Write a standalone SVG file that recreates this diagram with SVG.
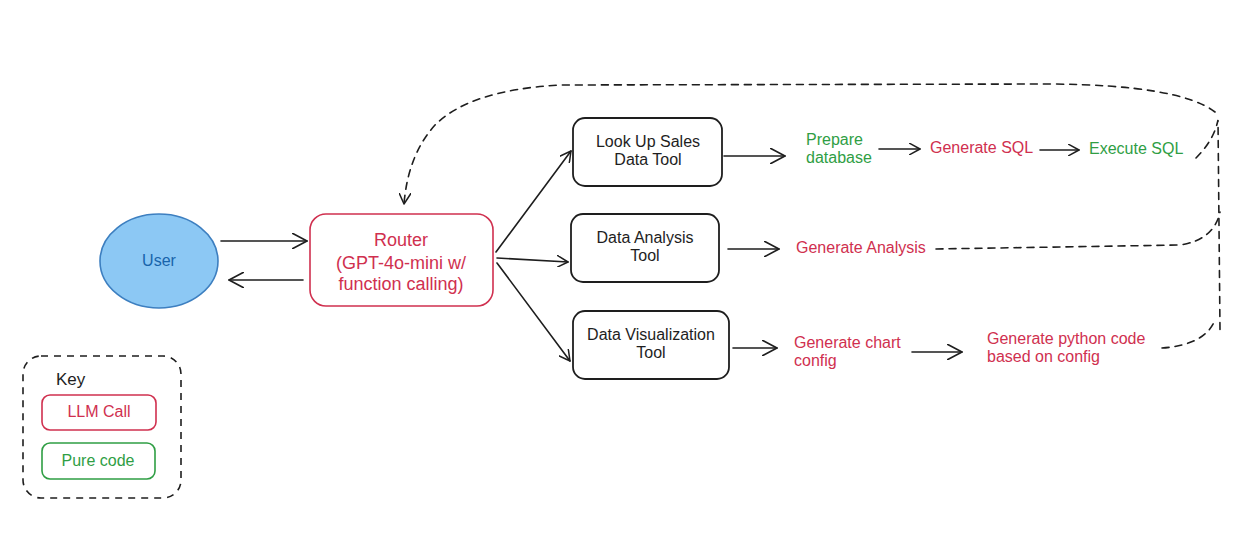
<svg xmlns="http://www.w3.org/2000/svg" width="1245" height="538" viewBox="0 0 1245 538">
<defs>
<marker id="ah" viewBox="0 0 12 12" refX="11" refY="6" markerWidth="12" markerHeight="12" markerUnits="userSpaceOnUse" orient="auto">
<path d="M0,0 L11,6 L0,12" fill="none" stroke="#1e1e1e" stroke-width="1.5" stroke-linecap="round" stroke-linejoin="round"/>
</marker>
<marker id="ahb" viewBox="0 0 16 16" refX="15" refY="8" markerWidth="16" markerHeight="16" markerUnits="userSpaceOnUse" orient="auto">
<path d="M0,0 L15,8 L0,16" fill="none" stroke="#1e1e1e" stroke-width="1.6" stroke-linecap="round" stroke-linejoin="round"/>
</marker>
</defs>
<style>
text{font-family:"Liberation Sans",Arial,sans-serif;font-size:16px;text-anchor:middle;dominant-baseline:middle}
.red{fill:#d0304f}
.grn{fill:#2f9e44}
.blk{fill:#1e1e1e}
.tool{fill:#fff;stroke:#1e1e1e;stroke-width:1.8}
.rbox{fill:#fff;stroke:#d0304f;stroke-width:1.6}
.gbox{fill:#fff;stroke:#2f9e44;stroke-width:1.6}
.c{fill:none;stroke:#1e1e1e;stroke-width:1.6;stroke-linecap:round}
.d{fill:none;stroke:#1e1e1e;stroke-width:1.6;stroke-dasharray:7 6;stroke-linecap:round}
.l{text-anchor:start}
</style>
<rect width="1245" height="538" fill="#fff"/>

<g id="connectors">
<path class="c" d="M221,241 L307,241" marker-end="url(#ahb)"/>
<path class="c" d="M303,280 L229,280" marker-end="url(#ahb)"/>
<path class="c" d="M496,252 L571,151" marker-end="url(#ah)"/>
<path class="c" d="M497,258 L568,262" marker-end="url(#ah)"/>
<path class="c" d="M497,263 L570,361" marker-end="url(#ah)"/>
<path class="c" d="M724,156 L785,156" marker-end="url(#ahb)"/>
<path class="c" d="M728,249 L779,249" marker-end="url(#ahb)"/>
<path class="c" d="M733,348 L777,348" marker-end="url(#ahb)"/>
<path class="c" d="M879,149 L920,149" marker-end="url(#ah)"/>
<path class="c" d="M1040,150 L1079,150" marker-end="url(#ah)"/>
<path class="c" d="M912,352 L962,352" marker-end="url(#ahb)"/>
<path class="d" d="M936,249 L1180,245 Q1214,240 1220,212"/>
<path class="d" d="M1162,348 Q1205,345 1215,320"/>
<path class="d" d="M1196,158 Q1214,140 1218,120 L1220,330"/>
<path class="d" d="M1215,112 Q1180,85 1050,84 L560,85 Q470,90 435,125 Q408,155 404,204" marker-end="url(#ah)"/>
</g>

<g id="user">
<ellipse cx="159" cy="261" rx="59" ry="47" fill="#8cc8f4" stroke="#3d7fc0" stroke-width="1.6"/>
<text x="159" y="262" fill="#1864ab">User</text>
</g>

<g id="router">
<rect class="rbox" x="310" y="214" width="183" height="92" rx="16"/>
<text class="red" x="401" y="241" style="font-size:18px">Router</text>
<text class="red" x="401" y="264" style="font-size:18px">(GPT-4o-mini w/</text>
<text class="red" x="401" y="285" style="font-size:18px">function calling)</text>
</g>

<g id="lookup">
<rect class="tool" x="573" y="118" width="149" height="68" rx="12"/>
<text class="blk" x="648" y="143">Look Up Sales</text>
<text class="blk" x="648" y="161">Data Tool</text>
</g>

<g id="analysis">
<rect class="tool" x="571" y="214" width="148" height="68" rx="12"/>
<text class="blk" x="645" y="239">Data Analysis</text>
<text class="blk" x="645" y="257">Tool</text>
</g>

<g id="viz">
<rect class="tool" x="573" y="311" width="156" height="68" rx="12"/>
<text class="blk" x="651" y="336">Data Visualization</text>
<text class="blk" x="651" y="354">Tool</text>
</g>

<g id="prepare">
<text class="grn l" x="806" y="141">Prepare</text>
<text class="grn l" x="806" y="159">database</text>
</g>
<g id="gensql"><text class="red l" x="930" y="149">Generate SQL</text></g>
<g id="execsql"><text class="grn l" x="1089" y="150">Execute SQL</text></g>
<g id="genanalysis"><text class="red l" x="796" y="249">Generate Analysis</text></g>
<g id="genchart">
<text class="red l" x="794" y="344">Generate chart</text>
<text class="red l" x="794" y="362">config</text>
</g>
<g id="genpython">
<text class="red l" x="987" y="340">Generate python code</text>
<text class="red l" x="987" y="358">based on config</text>
</g>

<g id="key">
<rect x="23" y="356" width="158" height="142" rx="18" fill="none" stroke="#1e1e1e" stroke-width="1.6" stroke-dasharray="7 6"/>
<text class="blk l" x="56" y="381" style="font-size:17px">Key</text>
<rect class="rbox" x="42" y="395" width="114" height="35" rx="8"/>
<text class="red" x="99" y="413">LLM Call</text>
<rect class="gbox" x="42" y="443" width="113" height="36" rx="8"/>
<text class="grn" x="98" y="462">Pure code</text>
</g>
</svg>
